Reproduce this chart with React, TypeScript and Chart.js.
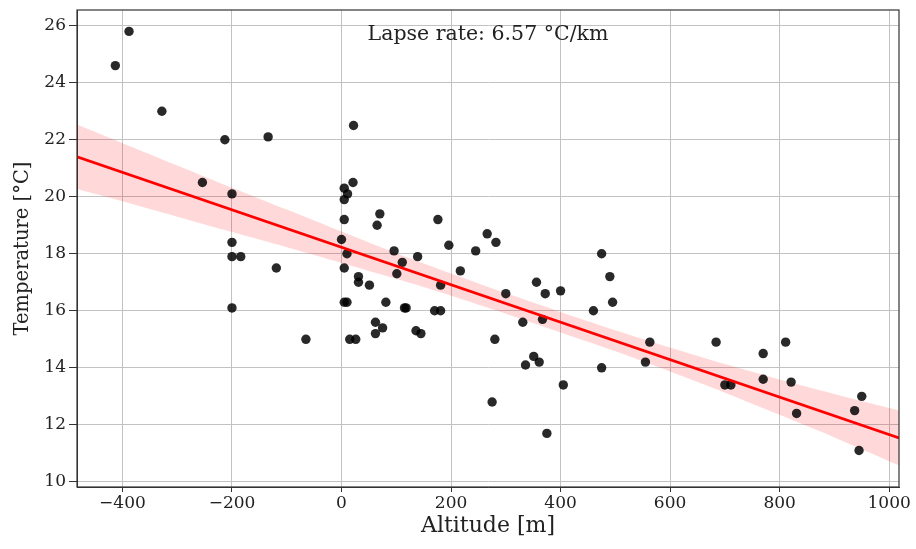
import React, { useEffect, useRef } from "react";
import { Chart, registerables } from "chart.js";

Chart.register(...registerables);

// Observations: altitude [m] and temperature [°C]
const ALTITUDE = [
  -413, -388, -328, -213, -134, 22, -254, -200, 21, 5, 11, 5, 5, -200, 0,
  70, 65, 176, 196, 266, 282, 10, 5, 31, 31, 51, 5, 10, 62, 62, 75, 81, 15,
  26, -65, 96, 111, 101, 115, 118, 139, 136, 145, 170, 181, 181, 217, 245,
  300, 280, 275, 331, 351, 336, 361, 356, 372, 367, 375, 400, 405, 460, 475,
  475, 490, 495, 563, 555, 684, 700, 711, 770, 770, 811, 821, 831, 937, 950,
  945, -200, -184, -119, -200,
];
const TEMPERATURE = [
  24.6, 25.8, 23.0, 22.0, 22.1, 22.5, 20.5, 20.1, 20.5, 20.3, 20.1, 19.9,
  19.2, 18.4, 18.5, 19.4, 19.0, 19.2, 18.3, 18.7, 18.4, 18.0, 17.5, 17.2,
  17.0, 16.9, 16.3, 16.3, 15.6, 15.2, 15.4, 16.3, 15.0, 15.0, 15.0, 18.1,
  17.7, 17.3, 16.1, 16.1, 17.9, 15.3, 15.2, 16.0, 16.0, 16.9, 17.4, 18.1,
  16.6, 15.0, 12.8, 15.6, 14.4, 14.1, 14.2, 17.0, 16.6, 15.7, 11.7, 16.7,
  13.4, 16.0, 18.0, 14.0, 17.2, 16.3, 14.9, 14.2, 14.9, 13.4, 13.4, 14.5,
  13.6, 14.9, 13.5, 12.4, 12.5, 13.0, 11.1, 17.9, 17.9, 17.5, 16.1,
];

// Regression line (end points) and its confidence band
const REG_X = [-483, 1018];
const REG_Y = [21.4, 11.54];
const BAND_X = [-483, -400, -300, -200, -100, 0, 100, 200, 300, 400, 500, 600, 700, 800, 900, 1018];
const BAND_UPPER = [22.53, 21.88, 21.1, 20.32, 19.55, 18.78, 18.02, 17.31, 16.62, 15.96, 15.32, 14.71, 14.13, 13.59, 13.08, 12.5];
const BAND_LOWER = [20.27, 19.84, 19.3, 18.76, 18.23, 17.68, 17.12, 16.53, 15.9, 15.24, 14.58, 13.87, 13.13, 12.35, 11.56, 10.58];

const X_TICKS = [-400, -200, 0, 200, 400, 600, 800, 1000];
const Y_TICKS = [10, 12, 14, 16, 18, 20, 22, 24, 26];
const X_RANGE = [-483, 1018];
const Y_RANGE = [9.82, 26.55];

const ANNOTATION = "Lapse rate: 6.57 °C/km";
const X_TITLE = "Altitude [m]";
const Y_TITLE = "Temperature [°C]";

const FONT = "DejaVu Serif";

const framePlugin = {
  id: "frameAndNote",
  afterDraw(chart: any) {
    const { ctx, chartArea } = chart;
    const { left, right, top, bottom } = chartArea;
    ctx.save();
    ctx.strokeStyle = "#333333";
    ctx.lineWidth = 1.2;
    ctx.strokeRect(left, top, right - left, bottom - top);
    ctx.fillStyle = "#222222";
    ctx.font = `20.5px "${FONT}"`;
    ctx.textAlign = "center";
    ctx.textBaseline = "alphabetic";
    ctx.fillText(ANNOTATION, (left + right) / 2, top + 30);
    ctx.restore();
  },
};

export default function App() {
  const canvasRef = useRef<HTMLCanvasElement | null>(null);

  useEffect(() => {
    const canvas = canvasRef.current;
    if (!canvas) return;
    const points = ALTITUDE.map((x, i) => ({ x, y: TEMPERATURE[i] }));
    const upper = BAND_X.map((x, i) => ({ x, y: BAND_UPPER[i] }));
    const lower = BAND_X.map((x, i) => ({ x, y: BAND_LOWER[i] }));
    const reg = REG_X.map((x, i) => ({ x, y: REG_Y[i] }));

    const chart = new Chart(canvas, {
      type: "scatter",
      data: {
        datasets: [
          {
            type: "line",
            data: upper,
            showLine: true,
            borderWidth: 0,
            borderColor: "rgba(0,0,0,0)",
            pointRadius: 0,
            fill: "+1",
            backgroundColor: "rgba(255,0,0,0.15)",
            tension: 0.3,
            order: 4,
          } as any,
          {
            type: "line",
            data: lower,
            showLine: true,
            borderWidth: 0,
            borderColor: "rgba(0,0,0,0)",
            pointRadius: 0,
            fill: false,
            tension: 0.3,
            order: 5,
          } as any,
          {
            type: "scatter",
            data: points,
            pointRadius: 4.7,
            pointBackgroundColor: "rgba(0,0,0,0.84)",
            pointBorderWidth: 0,
            order: 2,
          } as any,
          {
            type: "line",
            data: reg,
            showLine: true,
            borderColor: "rgb(255,0,0)",
            borderWidth: 2.6,
            pointRadius: 0,
            fill: false,
            order: 1,
          } as any,
        ],
      },
      options: {
        animation: false,
        responsive: false,
        maintainAspectRatio: false,
        layout: { padding: { top: 10, right: 17, left: 0, bottom: 0 } },
        plugins: {
          legend: { display: false },
          tooltip: { enabled: false },
        },
        scales: {
          x: {
            type: "linear",
            min: X_RANGE[0],
            max: X_RANGE[1],
            afterBuildTicks: (scale: any) => {
              scale.ticks = X_TICKS.map((v) => ({ value: v }));
            },
            afterFit: (scale: any) => {
              scale.height = 62;
              scale.paddingLeft = 0;
              scale.paddingRight = 0;
            },
            ticks: {
              font: { family: FONT, size: 17 },
              color: "#222",
              padding: 1,
              maxRotation: 0,
              autoSkip: false,
              callback: (v: any) => (Number(v) < 0 ? "\u2212" + Math.abs(Number(v)) : String(v)),
            },
            grid: {
              color: "#c2c2c2",
              lineWidth: 1,
              drawTicks: true,
              tickLength: 5,
              tickColor: "#333",
            },
            border: { display: true, color: "#333" },
            title: {
              display: true,
              text: X_TITLE,
              font: { family: FONT, size: 22 },
              color: "#222",
              padding: { top: 0, bottom: 10 },
            },
          },
          y: {
            type: "linear",
            min: Y_RANGE[0],
            max: Y_RANGE[1],
            afterBuildTicks: (scale: any) => {
              scale.ticks = Y_TICKS.map((v) => ({ value: v }));
            },
            afterFit: (scale: any) => {
              scale.width = 77;
              scale.paddingTop = 0;
              scale.paddingBottom = 0;
            },
            ticks: {
              font: { family: FONT, size: 17 },
              color: "#222",
              padding: 3,
              autoSkip: false,
            },
            grid: {
              color: "#c2c2c2",
              lineWidth: 1,
              drawTicks: true,
              tickLength: 8,
              tickColor: "#333",
            },
            border: { display: true, color: "#333" },
            title: {
              display: true,
              text: Y_TITLE,
              font: { family: FONT, size: 19.5 },
              color: "#222",
              padding: { top: 11, bottom: 0 },
            },
          },
        },
      },
      plugins: [framePlugin],
    });
    return () => chart.destroy();
  }, []);

  return (
    <div style={{ position: "absolute", left: 0, top: 0, width: 916, height: 549, background: "#fff" }}>
      <canvas ref={canvasRef} width={916} height={549} style={{ display: "block" }} />
    </div>
  );
}
